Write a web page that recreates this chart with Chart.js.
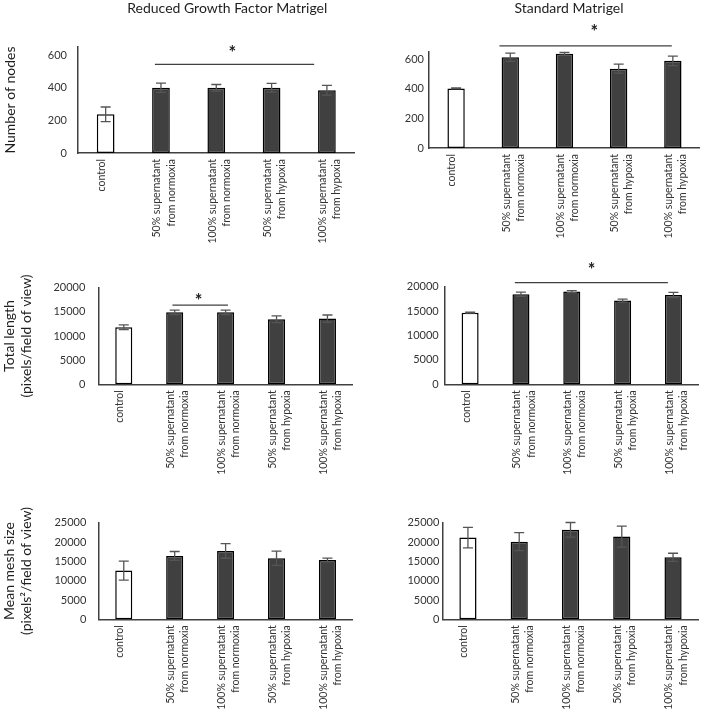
<!DOCTYPE html>
<html><head><meta charset="utf-8">
<script src="https://cdn.jsdelivr.net/npm/chart.js@4.4.1/dist/chart.umd.min.js"></script>
<style>
html,body{margin:0;padding:0;background:#fff;overflow:hidden;}
#wrap{position:relative;width:708px;height:712px;background:#fff;}
canvas{position:absolute;display:block;}
</style></head><body><div id="wrap">
<canvas id="c1" width="362" height="255" style="left:0;top:0"></canvas>
<canvas id="c2" width="354" height="255" style="left:354px;top:0"></canvas>
<canvas id="c3" width="362" height="245" style="left:0;top:255px"></canvas>
<canvas id="c4" width="354" height="245" style="left:354px;top:255px"></canvas>
<canvas id="c5" width="362" height="212" style="left:0;top:500px"></canvas>
<canvas id="c6" width="354" height="212" style="left:354px;top:500px"></canvas>
</div>
<script>
// ---------- data ----------
const categories = [
  ["control"],
  ["50% supernatant", "from normoxia"],
  ["100% supernatant", "from normoxia"],
  ["50% supernatant", "from hypoxia"],
  ["100% supernatant", "from hypoxia"]
];
const columnTitles = ["Reduced Growth Factor Matrigel", "Standard Matrigel"];
const yTitleNodes = "Number of nodes";
const yTitleLength = ["Total length", "(pixels/field of view)"];
const yTitleMesh = ["Mean mesh size", "(pixels\u00B2/field of view)"];

const yTicksNodes = [0, 200, 400, 600];
const yTicksLength = [0, 5000, 10000, 15000, 20000];
const yTicksMesh = [0, 5000, 10000, 15000, 20000, 25000];

const rgfNodes = [237, 400, 400, 400, 385];
const rgfNodesErr = [45, 28, 20, 27, 30];
const stdNodes = [402, 612, 635, 535, 588];
const stdNodesErr = [3, 28, 9, 30, 32];

const rgfLength = [11800, 14900, 14900, 13450, 13600];
const rgfLengthErr = [500, 450, 450, 700, 750];
const stdLength = [14670, 18450, 19000, 17150, 18300];
const stdLengthErr = [100, 450, 200, 300, 550];

const rgfMesh = [12600, 16400, 17700, 15800, 15350];
const rgfMeshErr = [2450, 1150, 1900, 1850, 500];
const stdMesh = [21150, 20100, 23150, 21400, 16050];
const stdMeshErr = [2650, 2350, 1900, 2700, 1050];

// significance bracket: [from category, to category, line value, star category, star value]
const sigRgfNodes = [0.89, 3.77, 543, 2.29, 631];
const sigStdNodes = [0.80, 3.98, 688, 2.55, 802];
const sigRgfLength = [0.956, 2.046, 16390, 1.47, 17890];
const sigStdLength = [0.88, 3.89, 20820, 2.39, 23980];

// ---------- drawing ----------
const FONT = "Lato, 'Open Sans', sans-serif";
const TXT = "#333333";

function extrasPlugin(errors, sig, titleShift) {
  return {
    id: 'extras',
    afterLayout(chart) {
      if (chart.titleBlock && titleShift) {
        chart.titleBlock.left += titleShift;
        chart.titleBlock.right += titleShift;
      }
    },
    afterDatasetsDraw(chart) {
      const ctx = chart.ctx;
      const ys = chart.scales.y, xs = chart.scales.x;
      const ds = chart.data.datasets[0];
      const meta = chart.getDatasetMeta(0);
      ctx.save();
      ctx.strokeStyle = "#555555";
      ctx.lineWidth = 1.3;
      meta.data.forEach((bar, i) => {
        const v = ds.data[i], e = errors[i];
        const x = bar.x;
        const yt = ys.getPixelForValue(v + e), yb = ys.getPixelForValue(v - e);
        ctx.beginPath();
        ctx.moveTo(x, yt); ctx.lineTo(x, yb);
        ctx.moveTo(x - 5, yt); ctx.lineTo(x + 5, yt);
        ctx.moveTo(x - 5, yb); ctx.lineTo(x + 5, yb);
        ctx.stroke();
      });
      if (sig) {
        const yl = ys.getPixelForValue(sig[2]);
        ctx.strokeStyle = "#404040";
        ctx.lineWidth = 1.3;
        ctx.beginPath();
        ctx.moveTo(xs.getPixelForValue(sig[0]), yl);
        ctx.lineTo(xs.getPixelForValue(sig[1]), yl);
        ctx.stroke();
        ctx.fillStyle = "#202020";
        ctx.font = "bold 18px " + FONT;
        ctx.textAlign = "center";
        ctx.textBaseline = "middle";
        ctx.fillText("*", xs.getPixelForValue(sig[3]), ys.getPixelForValue(sig[4]) + 3);
      }
      ctx.restore();
    }
  };
}

function makePanel(id, o) {
  const ctx = document.getElementById(id);
  new Chart(ctx, {
    type: 'bar',
    data: {
      labels: categories,
      datasets: [{
        data: o.values,
        backgroundColor: o.values.map((_, i) => i === 0 ? "#ffffff" : "#404040"),
        borderColor: "#000000",
        borderWidth: 1.5,
        borderSkipped: false,
        barPercentage: o.barPct,
        categoryPercentage: 1
      }]
    },
    options: {
      responsive: false,
      animation: false,
      events: [],
      layout: { padding: o.pad },
      plugins: {
        legend: { display: false },
        tooltip: { enabled: false },
        title: o.title ? {
          display: true, text: o.title, fullSize: false,
          color: "#1e1e1e",
          font: { family: FONT, size: 14, weight: 'normal', lineHeight: 1.2 },
          padding: { top: 0, bottom: o.titlePad }
        } : { display: false }
      },
      scales: {
        x: {
          grid: { display: false, drawTicks: false },
          border: { display: true, color: "#404040", width: 1.5 },
          ticks: {
            autoSkip: false, minRotation: 90, maxRotation: 90,
            padding: 6, labelOffset: -4, color: TXT,
            font: { family: FONT, size: 10.5, lineHeight: 1.35 }
          },
          afterFit: s => { s.height = o.xH; }
        },
        y: {
          min: 0, max: o.max,
          grid: { display: false, drawTicks: false },
          border: { display: true, color: "#404040", width: 1.5 },
          ticks: {
            padding: o.tickPad, color: TXT,
            font: { family: FONT, size: 11 },
            callback: v => String(v)
          },
          afterBuildTicks: s => { s.ticks = o.ticks.map(v => ({ value: v })); },
          title: o.yTitle ? {
            display: true, text: o.yTitle, color: "#1e1e1e",
            font: { family: FONT, size: 14, lineHeight: 1.2 },
            padding: { top: o.yTitlePad, bottom: 0 }
          } : { display: false },
          afterFit: s => { s.width = o.yW; }
        }
      }
    },
    plugins: [extrasPlugin(o.errors, o.sig, o.titleShift || 0)]
  });
}

makePanel('c1', {
  values: rgfNodes, errors: rgfNodesErr, sig: sigRgfNodes, max: 650, ticks: yTicksNodes,
  title: columnTitles[0], titlePad: 30.2, titleShift: 11,
  yTitle: yTitleNodes, yTitlePad: 2, yW: 78, xH: 102, tickPad: 11, barPct: 0.32,
  pad: { left: 0, right: 4, top: 0, bottom: 0 }
});
makePanel('c2', {
  values: stdNodes, errors: stdNodesErr, sig: sigStdNodes, max: 650, ticks: yTicksNodes,
  title: columnTitles[1], titlePad: 34.8, titleShift: 4.5,
  yTitle: null, yW: 75, xH: 107, tickPad: 5, barPct: 0.32,
  pad: { left: 0, right: 4, top: 0, bottom: 0 }
});
makePanel('c3', {
  values: rgfLength, errors: rgfLengthErr, sig: sigRgfLength, max: 20000, ticks: yTicksLength,
  yTitle: yTitleLength, yTitlePad: 1, yW: 98.3, xH: 115.7, tickPad: 13, barPct: 0.335,
  pad: { left: 0, right: 2, top: 32.7, bottom: 0 }
});
makePanel('c4', {
  values: stdLength, errors: stdLengthErr, sig: sigStdLength, max: 20000, ticks: yTicksLength,
  yTitle: null, yW: 90.7, xH: 115.7, tickPad: 6, barPct: 0.335,
  pad: { left: 0, right: 2, top: 31.7, bottom: 0 }
});
makePanel('c5', {
  values: rgfMesh, errors: rgfMeshErr, sig: null, max: 25000, ticks: yTicksMesh,
  yTitle: yTitleMesh, yTitlePad: 1, yW: 98.3, xH: 92.7, tickPad: 12, barPct: 0.335,
  pad: { left: 0, right: 2, top: 22.7, bottom: 0 }
});
makePanel('c6', {
  values: stdMesh, errors: stdMeshErr, sig: null, max: 25000, ticks: yTicksMesh,
  yTitle: null, yW: 88.3, xH: 92.7, tickPad: 3, barPct: 0.335,
  pad: { left: 0, right: 6, top: 22.7, bottom: 0 }
});
</script>
</body></html>
